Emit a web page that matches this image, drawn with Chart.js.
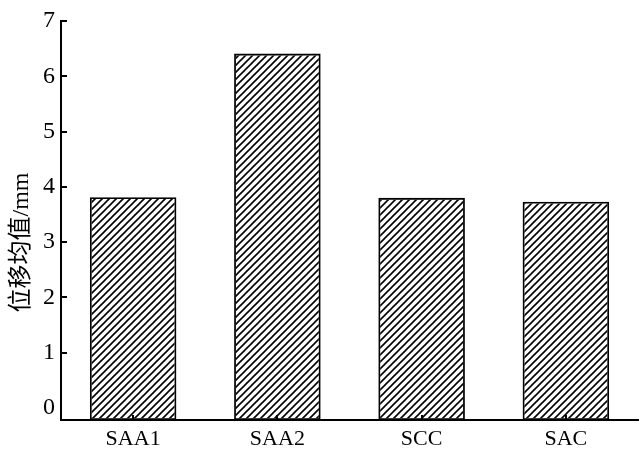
<!DOCTYPE html>
<html>
<head>
<meta charset="utf-8">
<script src="https://cdn.jsdelivr.net/npm/chart.js@4"></script>
<style>
  body { margin: 0; background: #fff; }
</style>
</head>
<body>
<canvas id="dispChart" width="641" height="459"></canvas>
<script>
// 数据
const categories = ["SAA1", "SAA2", "SCC", "SAC"];
const meanDisp = [3.81, 6.41, 3.80, 3.73];
const yTicks = [0, 1, 2, 3, 4, 5, 6, 7];
const yTitle = "位移均值/mm";

const serif = '"Liberation Serif", "Times New Roman", serif';

// 斜线填充
const makeHatch = () => {
    const c = document.createElement("canvas");
    c.width = 7;
    c.height = 7;
    const g = c.getContext("2d");
    g.strokeStyle = "#000";
    g.lineWidth = 1.6;
    g.beginPath();
    g.moveTo(-1, 8); g.lineTo(8, -1);
    g.moveTo(-4, 4); g.lineTo(4, -4);
    g.moveTo(3, 11); g.lineTo(11, 3);
    g.stroke();
    return g.createPattern(c, "repeat");
};

// 刻度朝内 + 纵轴标题
const innerTicks = {
    id: "innerTicks",
    afterDatasetsDraw(chart) {
        const { ctx, chartArea, scales: { x, y } } = chart;
        ctx.save();
        ctx.strokeStyle = "#000";
        ctx.lineWidth = 2;
        ctx.beginPath();
        yTicks.forEach(v => {
            if (v === 0) return;
            const py = Math.round(y.getPixelForValue(v));
            ctx.moveTo(chartArea.left, py);
            ctx.lineTo(chartArea.left + 6, py);
        });
        categories.forEach((c, i) => {
            const px = Math.round(x.getPixelForValue(i));
            ctx.moveTo(px, chartArea.bottom);
            ctx.lineTo(px, chartArea.bottom - 5);
        });
        ctx.stroke();

        ctx.translate(22, (chartArea.top + chartArea.bottom) / 2 + 22);
        ctx.rotate(-Math.PI / 2);
        ctx.fillStyle = "#000";
        ctx.font = '24px "Liberation Serif", "Noto Sans CJK SC", serif';
        ctx.textAlign = "center";
        ctx.textBaseline = "middle";
        ctx.fillText(yTitle, 0, 0);
        ctx.restore();
    }
};

new Chart(document.getElementById("dispChart"), {
    type: "bar",
    data: {
        labels: categories,
        datasets: [{
            data: meanDisp,
            base: -0.22,
            backgroundColor: makeHatch(),
            borderColor: "#000",
            borderWidth: 1.8,
            borderSkipped: false,
            barPercentage: 0.6,
            categoryPercentage: 1
        }]
    },
    options: {
        responsive: false,
        animation: false,
        layout: { padding: { left: 0, right: 3, top: 21, bottom: 0 } },
        plugins: {
            legend: { display: false },
            tooltip: { enabled: false }
        },
        scales: {
            x: {
                grid: { display: false, drawTicks: false },
                border: { display: true, color: "#000", width: 2 },
                ticks: { color: "#000", font: { family: serif, size: 22 }, padding: 6 },
                afterFit: s => { s.height = 39; }
            },
            y: {
                min: -0.22,
                max: 7,
                afterBuildTicks: s => { s.ticks = yTicks.map(v => ({ value: v })); },
                grid: { display: false, drawTicks: false },
                border: { display: true, color: "#000", width: 2 },
                ticks: { color: "#000", font: { family: serif, size: 24 }, padding: 6 },
                afterFit: s => { s.width = 61; }
            }
        }
    },
    plugins: [innerTicks]
});
</script>
</body>
</html>
